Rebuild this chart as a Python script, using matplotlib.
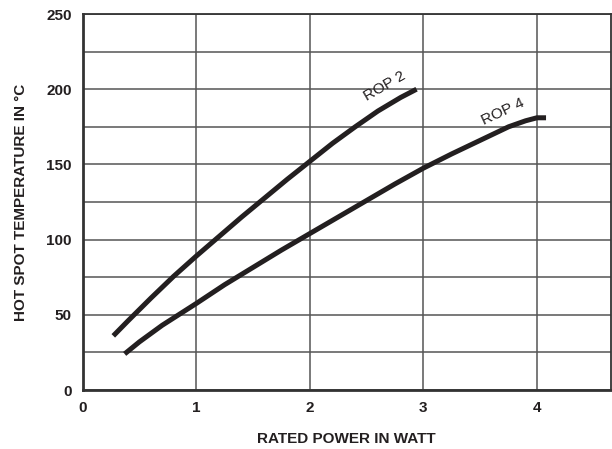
import matplotlib.pyplot as plt
import matplotlib

matplotlib.rcParams['font.family'] = ['Liberation Sans', 'DejaVu Sans']

# curves
rop2_x = [0.27, 0.4, 0.6, 0.8, 1.0, 1.2, 1.4, 1.6, 1.8, 2.0, 2.2, 2.4, 2.6, 2.8, 2.94]
rop2_y = [36, 46, 61, 75.5, 89, 102, 115, 127.5, 140, 152, 164, 175, 185.5, 194.5, 200]
rop4_x = [0.37, 0.5, 0.7, 1.0, 1.25, 1.5, 1.75, 2.0, 2.25, 2.5, 2.75, 3.0, 3.25, 3.5, 3.75, 3.9, 4.0, 4.08]
rop4_y = [24, 32, 43, 57.5, 70, 81.5, 93, 104, 115, 126, 137, 147.5, 157, 166, 175, 179, 181, 181]

x_ticks = [0, 1, 2, 3, 4]
y_ticks = [0, 50, 100, 150, 200, 250]
y_minor = [25, 75, 125, 175, 225]

fig = plt.figure(figsize=(6.12, 4.49), dpi=100)
ax = fig.add_axes([0.135, 0.1314, 0.863, 0.8374])

ink = '#231f20'
ax.plot(rop2_x, rop2_y, color=ink, linewidth=3.6, solid_capstyle='butt', zorder=3)
ax.plot(rop4_x, rop4_y, color=ink, linewidth=3.6, solid_capstyle='butt', zorder=3)

ax.text(2.66, 202, 'ROP 2', fontsize=11, rotation=30, ha='center', va='center', color=ink)
ax.text(3.70, 185, 'ROP 4', fontsize=11, rotation=25, ha='center', va='center', color=ink)

ax.set_xlim(0, 4.65)
ax.set_ylim(0, 250)
ax.set_xticks(x_ticks)
ax.set_yticks(y_ticks)
ax.set_yticks(y_minor, minor=True)
ax.set_xticklabels([str(v) for v in x_ticks], fontsize=11, fontweight='bold', color=ink)
ax.set_yticklabels([str(v) for v in y_ticks], fontsize=11, fontweight='bold', color=ink)
ax.tick_params(axis='both', which='both', length=0)
ax.tick_params(axis='x', pad=8)
ax.tick_params(axis='y', pad=8)

ax.grid(True, which='both', color='#555555', linewidth=1.1)
ax.set_axisbelow(True)
for s in ax.spines.values():
    s.set_color('#333333')
    s.set_linewidth(1.3)
ax.spines['left'].set_linewidth(2)
ax.spines['bottom'].set_linewidth(2)

ax.set_xlabel('RATED POWER IN WATT', fontsize=11, fontweight='bold', color=ink, labelpad=12)
ax.set_ylabel('HOT SPOT TEMPERATURE IN °C', fontsize=11, fontweight='bold', color=ink, labelpad=13)

fig.savefig('out.png', dpi=100)
